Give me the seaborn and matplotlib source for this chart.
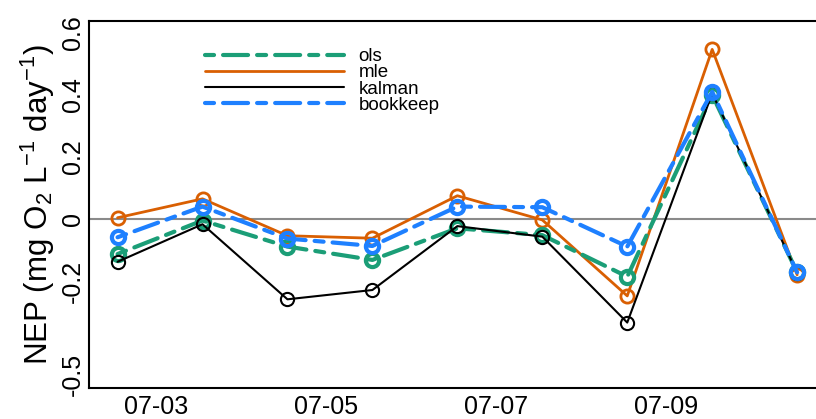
import matplotlib
matplotlib.use("Agg")
import matplotlib.pyplot as plt
import matplotlib.dates as mdates
from matplotlib.lines import Line2D
import seaborn as sns
import pandas as pd

dates = pd.to_datetime([
    "2020-07-02 13:00", "2020-07-03 13:00", "2020-07-04 13:00",
    "2020-07-05 13:00", "2020-07-06 13:00", "2020-07-07 13:00",
    "2020-07-08 13:00", "2020-07-09 13:00", "2020-07-10 13:00",
])
ols = [-0.113, -0.005, -0.089, -0.132, -0.030, -0.052, -0.186, 0.400, -0.172]
mle = [0.004, 0.065, -0.054, -0.062, 0.075, -0.003, -0.248, 0.547, -0.180]
kalman = [-0.138, -0.017, -0.259, -0.229, -0.023, -0.057, -0.334, 0.405, -0.173]
bookkeep = [-0.059, 0.040, -0.063, -0.087, 0.040, 0.038, -0.089, 0.410, -0.172]

series_names = ["ols", "mle", "kalman", "bookkeep"]
y_major = [-0.5, -0.2, 0.0, 0.2, 0.4, 0.6]
y_major_labels = ["-0.5", "-0.2", "0", "0.2", "0.4", "0.6"]
y_minor = [-0.4, -0.3, -0.1, 0.1, 0.3, 0.5]
x_ticks = pd.to_datetime(["2020-07-03", "2020-07-05", "2020-07-07", "2020-07-09"])

sns.set_theme(style="white")
plt.rcParams["font.family"] = ["Liberation Sans", "DejaVu Sans"]
plt.rcParams["mathtext.default"] = "regular"
plt.rcParams["lines.scale_dashes"] = False
plt.rcParams["text.color"] = "black"
plt.rcParams["axes.labelcolor"] = "black"
plt.rcParams["xtick.color"] = "black"
plt.rcParams["ytick.color"] = "black"

fig = plt.figure(figsize=(8.16, 4.19), dpi=100)
ax = fig.add_axes([0.109, 0.074, 0.895, 0.877])

df = pd.DataFrame({"date": dates, "ols": ols, "mle": mle, "kalman": kalman, "bookkeep": bookkeep})

styles = {
    "ols": dict(color="#1b9e77", lw=3.0, mew=3.0, dashes=(6.5, 6.5, 18, 6.5), z=3),
    "mle": dict(color="#d95f02", lw=2.0, mew=2.0, dashes=None, z=2),
    "kalman": dict(color="black", lw=1.5, mew=1.5, dashes=None, z=4),
    "bookkeep": dict(color="#1e80ff", lw=3.0, mew=3.0, dashes=(6.5, 6.5, 18, 6.5), z=5),
}

ax.axhline(0, color="#8a8a8a", lw=1.5, zorder=1)

for name in series_names:
    st = styles[name]
    sns.lineplot(data=df, x="date", y=name, ax=ax, color=st["color"], lw=st["lw"],
                 marker="o", markersize=9.5, markerfacecolor="none",
                 markeredgecolor=st["color"], markeredgewidth=st["mew"],
                 zorder=st["z"], legend=False)
    line = ax.lines[-1]
    line.set_solid_capstyle("round")
    line.set_dash_capstyle("round")
    if st["dashes"] is not None:
        line.set_dashes(st["dashes"])

ax.set_xlim(pd.Timestamp("2020-07-02 04:55"), pd.Timestamp("2020-07-10 19:15"))
ax.set_ylim(-0.545, 0.64)

ax.set_xticks(x_ticks)
ax.xaxis.set_major_formatter(mdates.DateFormatter("%m-%d"))
ax.set_yticks(y_major)
ax.set_yticklabels(y_major_labels, rotation=90, va="center")
ax.set_yticks(y_minor, minor=True)

ax.tick_params(axis="both", which="both", direction="in", length=5, width=1.2, color="black")
ax.tick_params(axis="x", labelsize=18, pad=5, labelcolor="black")
ax.tick_params(axis="y", labelsize=18, pad=3, labelcolor="black")

for sp in ax.spines.values():
    sp.set_color("black")
    sp.set_linewidth(1.5)

ax.set_xlabel("")
ax.set_ylabel(r"NEP (mg O$_2$ L$^{-1}$ day$^{-1}$)", fontsize=22.5, labelpad=3, color="black")

leg_handles = []
for name in series_names:
    st = styles[name]
    h = Line2D([0], [0], color=st["color"], lw=st["lw"], solid_capstyle="round", dash_capstyle="round")
    if st["dashes"] is not None:
        h.set_dashes(st["dashes"])
    leg_handles.append(h)
leg = ax.legend(leg_handles, series_names, loc="upper left", bbox_to_anchor=(0.159, 0.925),
                frameon=False, fontsize=13.5, handlelength=7.4, handletextpad=0.78,
                labelspacing=-0.05, borderpad=0, borderaxespad=0)
for t in leg.get_texts():
    t.set_color("black")

fig.savefig("out.png", dpi=100)
